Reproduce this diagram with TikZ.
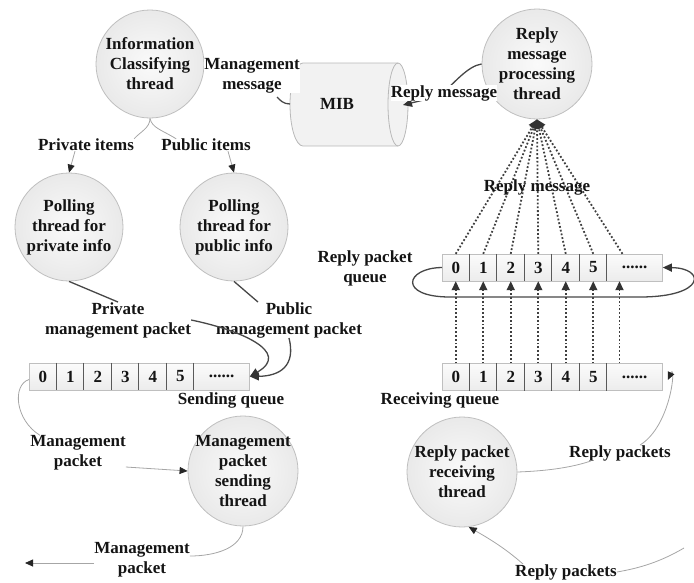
\documentclass[tikz,border=0pt]{standalone}
\usepackage{fontspec}
\setmainfont{Liberation Serif}
\usetikzlibrary{arrows.meta}
\begin{document}
\begin{tikzpicture}[x=1pt,y=-1pt,
  every node/.style={font=\bfseries\fontsize{17}{20}\selectfont, text=black!92, align=center, inner sep=0pt},
  thread/.style={circle, draw=gray!50, line width=0.8pt, inner color=gray!4, outer color=gray!17, minimum size=#1},
  thread/.default=110pt,
  cell/.style={minimum width=27.5pt, minimum height=27pt},
  wcell/.style={minimum width=55pt, minimum height=27pt},
  qbox/.style={draw=gray!50, line width=0.8pt, top color=gray!3, bottom color=gray!15, minimum width=220pt, minimum height=27pt, anchor=west},
  qdiv/.style={draw=black!65, line width=1.3pt},
  heavy/.style={draw=black!72, line width=1.3pt},
  light/.style={draw=gray!70, line width=0.8pt},
  tipA/.style={-{Triangle[length=9pt,width=8pt,color=black!80]}},
  tipB/.style={-{Triangle[length=8pt,width=7pt,color=black!85]}},
  dotl/.style={draw=black!75, line width=1.8pt, dash pattern=on 1.8pt off 2pt},
  cover/.style={fill=white},
]
\useasboundingbox (0,0) rectangle (694,582);

% ---------- thread circles ----------
\node[thread=108pt] (ict) at (150,64) {};
\node at (ict) {Information\\Classifying\\thread};
\node[thread] (rmp) at (537,64) {};
\node at (rmp) {Reply\\message\\processing\\thread};
\node[thread=108pt] (ppriv) at (69,227) {};
\node at (ppriv) {Polling\\thread for\\private info};
\node[thread=108pt] (ppub) at (234,227) {};
\node at (ppub) {Polling\\thread for\\public info};
\node[thread] (mps) at (243,471) {};
\node at (mps) {Management\\packet\\sending\\thread};
\node[thread] (rpr) at (462,472) {};
\node at (rpr) {Reply packet\\receiving\\thread};

% ---------- MIB store ----------
\fill[gray!10] (303,63) -- (398,63) arc[start angle=90, end angle=-90, x radius=10pt, y radius=41.5pt]
  -- (303,146) arc[start angle=-90, end angle=-270, x radius=13pt, y radius=41.5pt] -- cycle;
\draw[gray!55, line width=0.8pt] (398,63) -- (303,63) arc[start angle=90, end angle=270, x radius=13pt, y radius=41.5pt] -- (398,146);
\draw[gray!55, line width=0.8pt] (398,104.5) ellipse[x radius=10pt, y radius=41.5pt];
\node (mib) at (337,104) {MIB};
\coordinate (mibL) at (290,104);
\coordinate (mibR) at (403,105);

% ---------- queues ----------
% sending queue
\node[qbox] (sq) at (29,376.5) {};
\foreach \i in {0,...,5} \node[cell] (sq\i) at (29+13.75+27.5*\i,376.5) {\i};
\node[wcell] (sq6) at (29+165+27.5,376.5) {......};
\foreach \i in {1,...,6} \draw[qdiv] (sq\i.north west) -- (sq\i.south west);
% reply packet queue
\node[qbox] (rqbox) at (442,267.5) {};
\foreach \i in {0,...,5} \node[cell] (rq\i) at (442+13.75+27.5*\i,267.5) {\i};
\node[wcell] (rq6) at (442+165+27.5,267.5) {......};
\foreach \i in {1,...,6} \draw[qdiv] (rq\i.north west) -- (rq\i.south west);
% receiving queue
\node[qbox] (vq) at (442,377) {};
\foreach \i in {0,...,5} \node[cell] (vq\i) at (442+13.75+27.5*\i,377) {\i};
\node[wcell] (vq6) at (442+165+27.5,377) {......};
\foreach \i in {1,...,6} \draw[qdiv] (vq\i.north west) -- (vq\i.south west);

% ---------- connectors hidden behind their labels ----------
\draw[heavy, tipA] (rmp.west) .. controls (468,66) and (455,82) .. (440,96) -- (mibR);
\draw[heavy] (mibL) .. controls (283,104) and (280,100) .. (277,97);

% ---------- labels ----------
\node[cover] (mgmtMsg) at (252,76) {Management\\message};
\node[cover] (replyMsg) at (444,93) {Reply message};
\node (privI) at (86,145) {Private items};
\node (pubI) at (206,145) {Public items};
\node (privMP) at (118,320) {Private\\management packet};
\node (pubMP) at (289,320) {Public\\management packet};
\node (sqL) at (231,400) {Sending queue};
\node (vqL) at (440,400) {Receiving queue};
\node (rpq) at (365,268) {Reply packet\\queue};
\node (mp1) at (78,453) {Management\\packet};
\node (mp2) at (142,560) {Management\\packet};
\node (rp1) at (620,453) {Reply packets};
\node (rp2) at (566,572) {Reply packets};
\coordinate (outL) at (25,563);
\coordinate (rpIn) at (684,548);

% ---------- classification ----------
\draw[light] (ict.south) .. controls (150,128) and (140,132) .. (privI.north east);
\draw[light] (ict.south) .. controls (152,128) and (162,130) .. ([xshift=15pt]pubI.north west);
\draw[light, tipB] ([xshift=-11pt]privI.south) -- (ppriv.north);
\draw[light, tipB] ([xshift=22pt]pubI.south) -- (ppub.north);

% ---------- polling to sending queue ----------
\draw[heavy] (ppriv.south) -- (privMP.north);
\draw[heavy] (ppub.south) -- ([xshift=-31pt]pubMP.north);
\draw[heavy, tipA] (privMP.east) .. controls (240,330) and (292,352) .. (sq.east);
\draw[heavy, tipA] (pubMP.south) .. controls (296,366) and (280,376) .. (sq.east);

% ---------- sending side ----------
\draw[light] ([yshift=-3pt]sq.west) .. controls (12,385) and (15,420) .. ([xshift=10pt]mp1.north west);
\draw[light, tipB] ([yshift=-14pt]mp1.east) -- (mps.west);
\draw[light] (mps.south) .. controls (243,548) and (215,556) .. ([yshift=4pt]mp2.east);
\draw[light, tipB] ([yshift=-3pt]mp2.west) -- (outL);

% ---------- receiving side ----------
\draw[light] (rpIn) .. controls (660,562) and (640,568) .. (rp2.east);
\draw[light, tipB] ([xshift=8pt]rp2.north west) .. controls (505,548) and (488,538) .. (rpr.-83);
\draw[light] (rpr.east) .. controls (545,471) and (570,468) .. ([xshift=22pt]rp1.south west);
\draw[light, tipB] ([xshift=20pt]rp1.north) .. controls (672,425) and (676,362) .. ([xshift=5pt,yshift=-3pt]vq.east);

% receiving queue -> reply packet queue
\foreach \i in {0,...,5} \draw[dotl, tipA] (vq\i.north) -- (rq\i.south);
\draw[dotl, tipA] ([xshift=-15pt]vq6.north) -- ([xshift=-15pt]rq6.south);

% circulation around the reply packet queue
\draw[heavy, tipA] (rqbox.west) .. controls (405,268) and (398,297) .. (450,297) -- (640,297)
  .. controls (706,297) and (706,268) .. (rqbox.east);

% reply packet queue -> reply message processing thread
\foreach \i in {0,...,5} \draw[dotl, tipA] (rq\i.north) -- (rmp.south);
\draw[dotl, tipA] ([xshift=-12pt]rq6.north) -- (rmp.south);
\node (replyMsg2) at (537,187) {Reply message};

\end{tikzpicture}
\end{document}
